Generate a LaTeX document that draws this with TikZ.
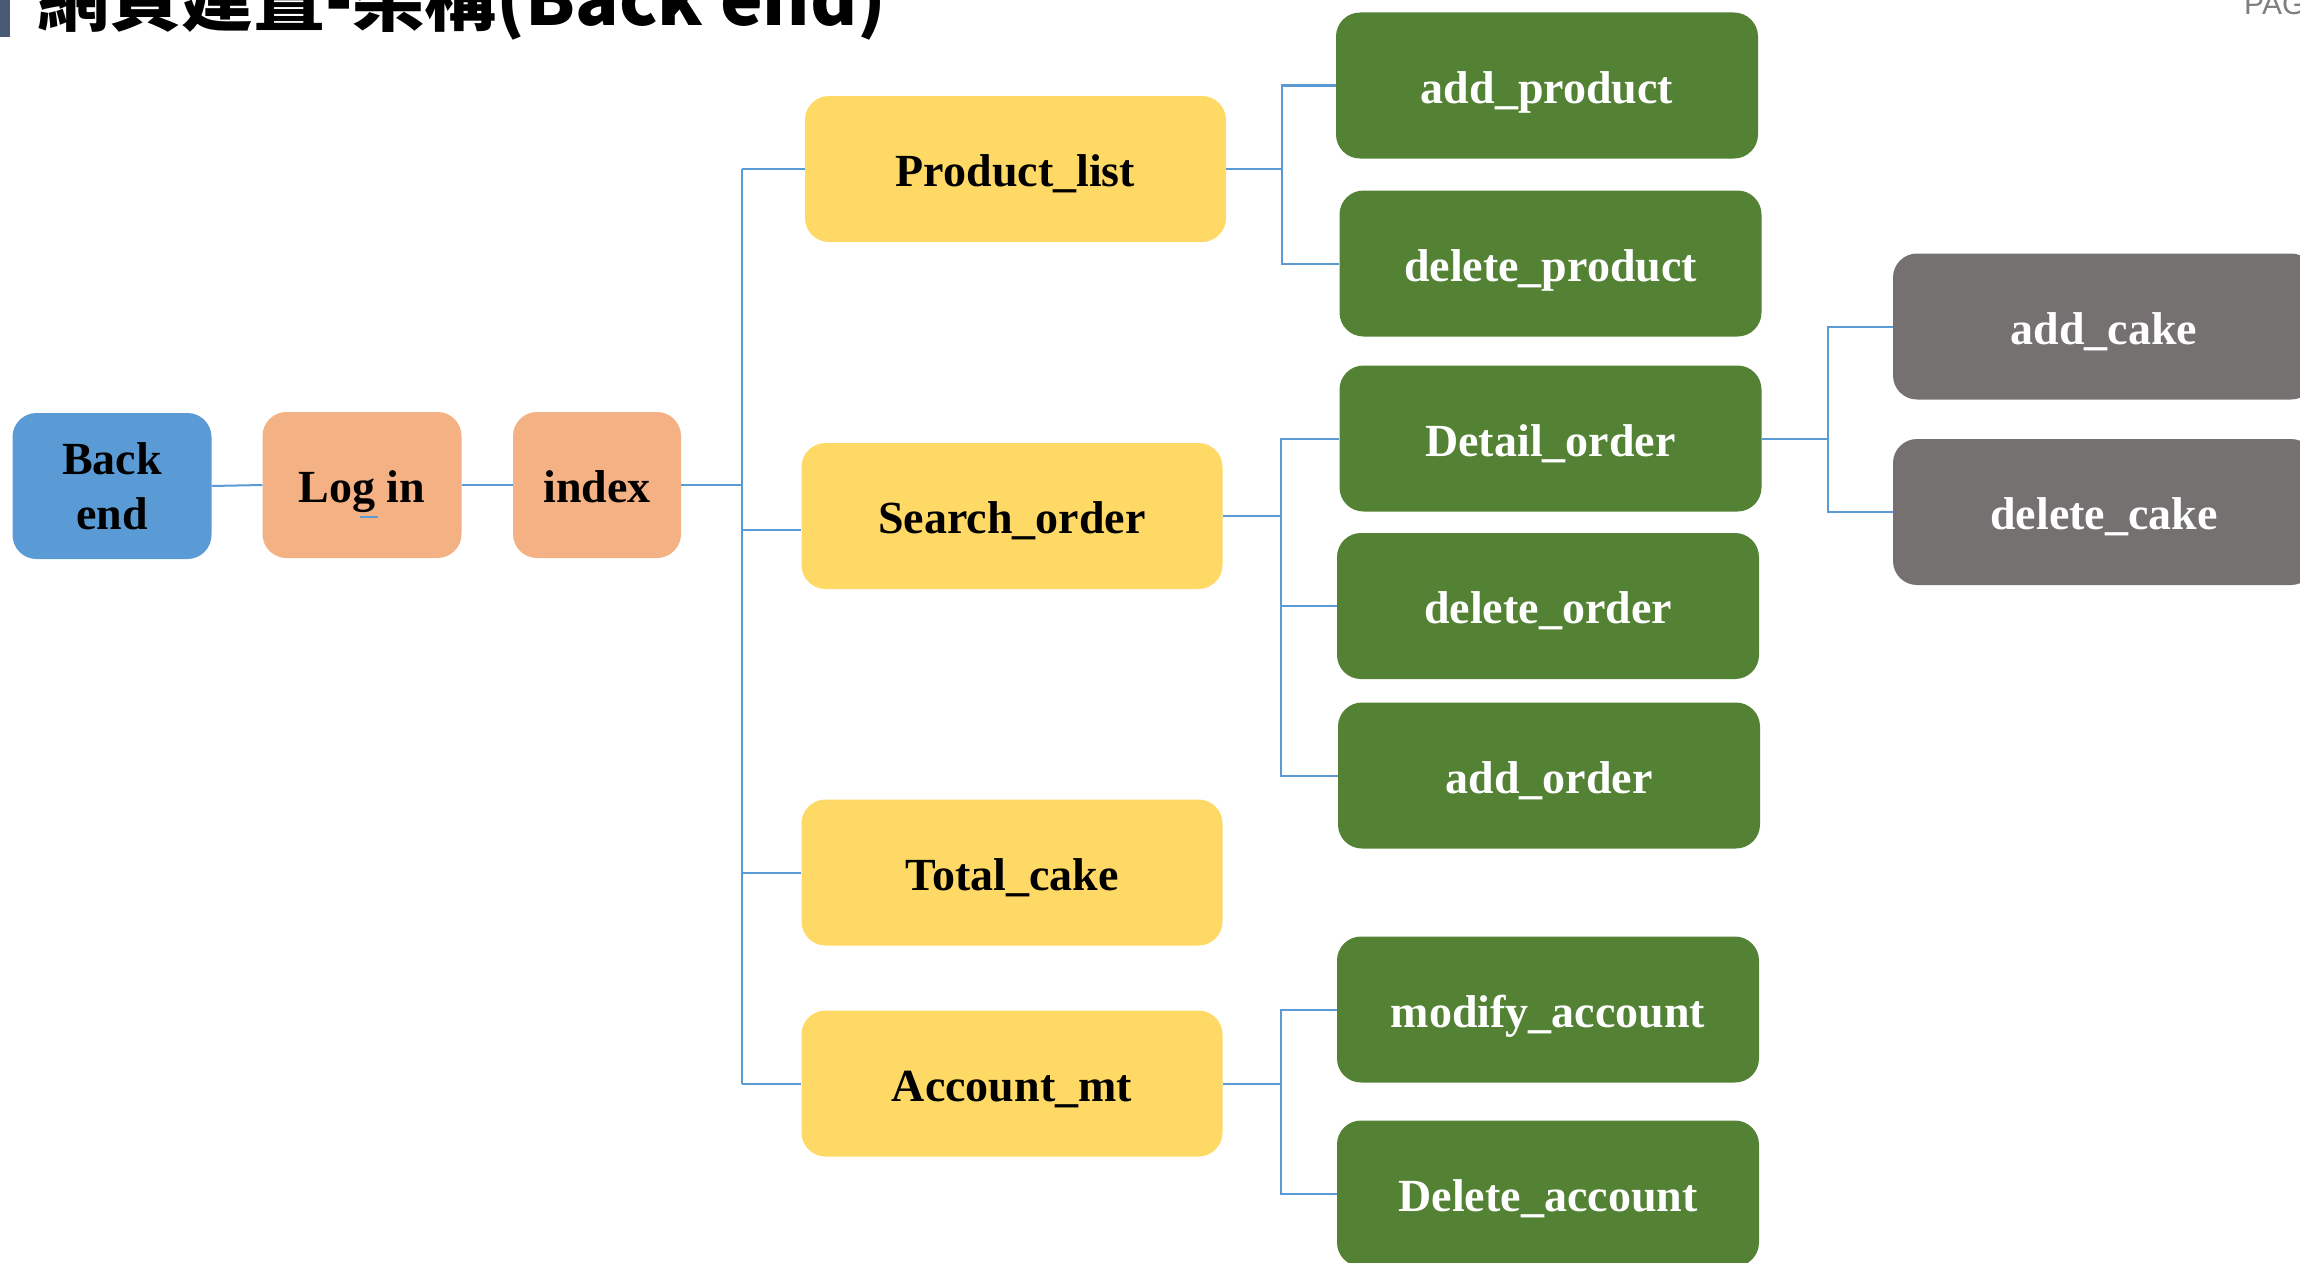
\documentclass[tikz,border=0pt]{standalone}
\usepackage{fontspec}
\setmainfont{Liberation Serif}
\newfontfamily\cjkfont{Noto Sans CJK TC}
\newfontfamily\pagefont{Liberation Sans}
\definecolor{cblue}{HTML}{5B9BD5}
\definecolor{corange}{HTML}{F4B183}
\definecolor{cyellow}{HTML}{FFD966}
\definecolor{cgreen}{HTML}{548235}
\definecolor{cgray}{HTML}{767171}
\definecolor{cconn}{HTML}{5B9BD5}
\definecolor{cbar}{HTML}{4A5A75}
\definecolor{cpage}{HTML}{7F7F7F}
\tikzset{
  box/.style={rounded corners=24pt, inner sep=0pt, minimum height=146pt,
    font=\fontsize{46}{55}\selectfont\bfseries, align=center},
  oneline/.style={text height=40pt, text depth=5pt},
  bluebox/.style={box, fill=cblue, text=black},
  orangebox/.style={box, oneline, fill=corange, text=black},
  yellowbox/.style={box, oneline, fill=cyellow, text=black, minimum width=421pt},
  greenbox/.style={box, oneline, fill=cgreen, text=white, minimum width=422pt},
  graybox/.style={box, oneline, fill=cgray, text=white, minimum width=422pt},
  conn/.style={draw=cconn, line width=2pt},
}
\begin{document}
\begin{tikzpicture}[x=1pt,y=-1pt]
\useasboundingbox (0,0) rectangle (2300,1263);
\clip (0,0) rectangle (2300,1263);
% title and page mark
\fill[cbar] (0,0) rectangle (10,37);
\node[anchor=base west, inner sep=0pt, font=\cjkfont\bfseries\fontsize{72}{78}\selectfont] (title) at (37,26) {網頁建置-架構(Back end)};
\node[anchor=base west, inner sep=0pt, font=\pagefont\fontsize{30}{30}\selectfont, text=cpage] (pg) at (2244,15) {PAGE};
% nodes
\node[bluebox, minimum width=199pt] (BE) at (112,486) {Back\\end};
\node[orangebox, minimum width=199pt] (LI) at (362,485) {Log in};
\node[orangebox, minimum width=168pt] (IX) at (597,485) {index};
\node[yellowbox] (PL) at (1015.5,169) {Product\_list};
\node[yellowbox] (SO) at (1012,516) {Search\_order};
\node[yellowbox] (TC) at (1012,872.5) {Total\_cake};
\node[yellowbox] (AM) at (1012,1083.5) {Account\_mt};
\node[greenbox] (AP) at (1547,85.5) {add\_product};
\node[greenbox] (DP) at (1550.5,263.5) {delete\_product};
\node[greenbox] (DO) at (1550.5,438.5) {Detail\_order};
\node[greenbox] (DLO) at (1548,606) {delete\_order};
\node[greenbox] (AO) at (1549,775.5) {add\_order};
\node[greenbox] (MA) at (1548,1009.5) {modify\_account};
\node[greenbox] (DA) at (1548,1193.5) {Delete\_account};
\node[graybox] (AC) at (2104,326.5) {add\_cake};
\node[graybox] (DC) at (2104,512) {delete\_cake};
% bus coordinates
\coordinate (T) at (742,0);
\coordinate (B1) at (1282,0);
\coordinate (B2) at (1281,0);
\coordinate (B3) at (1281,0);
\coordinate (B4) at (1828,0);
% connectors
\draw[conn] (BE.east) -- (LI.west);
\draw[conn] (LI.east) -- (IX.west);
\draw[conn] (IX.east) -- (IX.east -| T);
\draw[conn] (T |- PL.west) -- (T |- AM.west);
\draw[conn] (PL.west) -- (PL.west -| T);
\draw[conn] ([yshift=-14pt]SO.west) -- ([yshift=-14pt]SO.west -| T);
\draw[conn] (TC.west) -- (TC.west -| T);
\draw[conn] (AM.west) -- (AM.west -| T);
\draw[conn] (PL.east) -- (B1 |- PL.east);
\draw[conn] (AP.west) -| (B1 |- PL.east) |- (DP.west);
\draw[conn] (SO.east) -- (B2 |- SO.east);
\draw[conn] (DO.west) -| (B2 |- SO.east) |- (AO.west);
\draw[conn] (DLO.west) -- (B2 |- DLO.west);
\draw[conn] (AM.east) -- (B3 |- AM.east);
\draw[conn] (MA.west) -| (B3 |- AM.east) |- (DA.west);
\draw[conn] (DO.east) -- (B4 |- DO.east);
\draw[conn] (AC.west) -| (B4 |- DO.east) |- (DC.west);
% spell mark under "Log in"
\draw[conn, line width=1.5pt] ([xshift=-2pt,yshift=-32pt]LI.center) -- ([xshift=16pt,yshift=-32pt]LI.center);
\end{tikzpicture}
\end{document}
